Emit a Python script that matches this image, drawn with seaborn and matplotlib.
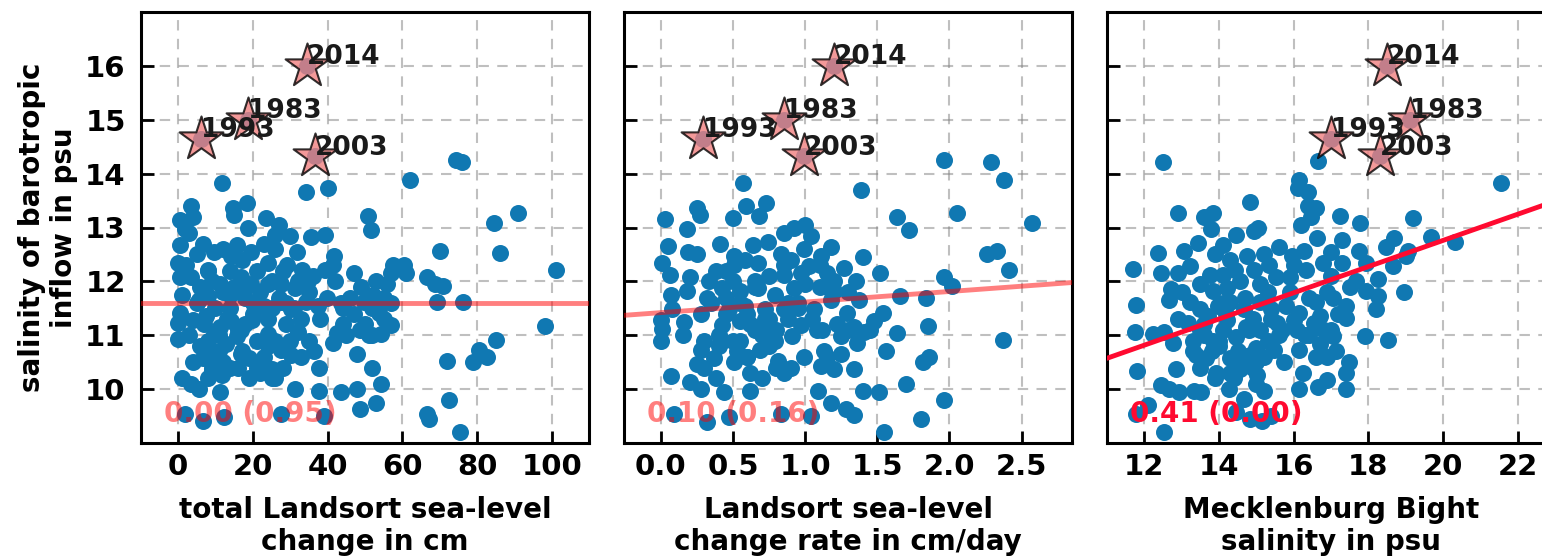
import numpy as np
import pandas as pd
import matplotlib
matplotlib.use("Agg")
import matplotlib.pyplot as plt
import seaborn as sns

# ---------------- data ----------------
years = ["1983", "1993", "2003", "2014"]
year_salinity = [15.0, 14.65, 14.32, 16.0]
year_x1 = [18.7, 6.1, 36.6, 34.5]
year_x2 = [0.85, 0.29, 0.99, 1.20]
year_x3 = [19.12, 17.0, 18.31, 18.5]

# panel 1: total Landsort sea-level change (cm) vs salinity
p1_x = [74.3, 75.9, 62.0, 90.8, 84.6, 86.1, 101, 70.0, 66.6, 68.7, 70.9, 69.2, 76.2, 98.2, 85.1,
        80.5, 82.5, 79.0, 71.8, 72.5, 66.6, 67.2, 75.4, 50.7, 51.5, 60.5, 57.4, 61.0, 57.0, 55.9,
        47.1, 41.8, 41.4, 39.4, 39.2, 35.5, 34.3, 40.2, 57.0, 54.4, 51.2, 48.7, 47.8, 51.8, 54.3,
        47.8, 43.5, 48.7, 52.9, 37.8, 39.0, 37.8, 36.3, 41.5, 42.5,
        11.7, 3.5, 4.0, 0.4, 1.9, 14.6, 15.0, 18.4, 18.7, 23.4, 26.9, 30.0, 25.9, 0.4, 6.6, 5.0,
        9.7, 14.3, 15.8, 19.4, 24.0, 29.2, 31.7, 33.2, 34.8, -0.1, 0.4, 3.5, 8.1, 11.2, 16.8,
        19.4, 24.0, 27.6, 31.2, 1.0, 5.5, 8.1, 13.8, 17.9, 23.0, 27.2, 30.2, 34.3, 37.3, 39.8,
        43.5, 49.7, 52.2, 53.8, 0.4, 4.0, 7.6, 11.2, 14.3, 16.8, 19.9, 24.0, 32.2, -0.1, -0.1,
        9.7, 12.7, 15.8, 7.6, 6.6, 9.1, 16.8, 18.9, 22.0, 24.0, 27.6, 30.2, 25.0, 22.0, 25.0,
        1.0, 3.5, 5.5, 9.1, 11.7, 11.2, 31.2, 1.9, 6.6, 12.2, 27.6,
        3, 8, 12, 14, 17, 21, 23, 26, 28, 32, 36, 6, 10, 14, 20, 24, 27, 33, 38, 44, 47, 50,
        52, 3, 8, 13, 18, 21, 26, 29, 35, 9, 14, 19, 23, 28, 6, 11, 16, 44, 55, 57, 49, 53,
        2, 5, 9, 12, 15, 18, 22, 25, 29, 31, 35, 7, 11, 16, 20, 25, 30, 4, 8, 12, 17, 21, 26,
        33, 45, 42, 46, 52, 55,
        18.7, 6.1, 36.6, 34.5]
p1_y = [14.25, 14.22, 13.88, 13.27, 13.08, 12.52, 12.21, 12.57, 12.08, 11.95, 11.92, 11.62, 11.61,
        11.17, 10.91, 10.73, 10.60, 10.50, 10.53, 9.79, 9.54, 9.45, 9.21, 13.21, 12.95, 12.31,
        12.31, 12.15, 12.15, 11.95, 12.15, 12.48, 12.31, 12.21, 12.86, 12.82, 13.66, 13.73, 11.19,
        11.03, 11.00, 11.09, 10.66, 10.40, 10.10, 10.00, 9.94, 9.64, 9.74, 9.97, 9.51, 10.40,
        10.71, 10.86, 11.05,
        13.83, 13.40, 13.20, 13.13, 12.97, 13.36, 13.23, 13.46, 13.00, 13.17, 13.04, 12.84, 12.87,
        12.67, 12.70, 12.50, 12.54, 12.48, 12.67, 12.54, 12.35, 12.31, 12.54, 12.21, 12.01, 12.34,
        12.08, 12.08, 12.21, 11.95, 12.08, 11.95, 11.95, 11.95, 11.88, 11.75, 11.65, 11.72, 11.75,
        11.69, 11.55, 11.62, 11.49, 11.62, 11.55, 11.69, 11.59, 11.62, 11.75, 11.42, 11.42, 11.29,
        11.36, 11.16, 11.26, 11.09, 11.29, 11.03, 11.06, 11.22, 10.93, 11.03, 10.83, 10.99, 10.70,
        10.57, 10.57, 10.66, 10.57, 10.50, 10.80, 10.73, 10.63, 10.37, 10.30, 10.20, 10.20, 10.10,
        10.00, 10.33, 10.27, 9.94, 10.00, 9.54, 9.41, 9.48, 9.54,
        12.9, 12.2, 12.6, 12.2, 12.4, 12.2, 12.7, 12.6, 12.2, 12.0, 12.1, 11.9, 11.5, 11.5, 11.6,
        11.3, 11.7, 11.3, 11.3, 11.2, 11.4, 11.2, 11.5, 11.0, 10.9, 11.3, 11.2, 10.9, 10.9, 11.2,
        10.9, 10.4, 10.4, 10.2, 10.6, 10.4, 10.8, 10.7, 10.4, 11.5, 11.3, 11.6, 11.9, 12.0,
        12.3, 11.6, 12.0, 11.8, 11.9, 11.9, 11.8, 12.0, 11.6, 11.5, 11.8, 11.2, 11.0, 11.1, 11.4,
        11.5, 10.9, 10.5, 10.2, 10.5, 10.7, 10.4, 10.2, 10.6, 11.0, 12.0, 11.7, 11.0, 11.7,
        15.0, 14.65, 14.32, 16.0]

# panel 2: Landsort sea-level change rate (cm/day) vs salinity
p2_x = [1.96, 2.29, 2.38, 1.385, 2.05, 1.64, 1.72, 2.57, 2.26, 2.33, 2.41, 1.96, 2.02, 1.84, 1.66,
        1.52, 1.40, 1.54, 1.85, 1.64, 2.37, 1.56, 1.86, 1.82, 1.70, 1.96, 1.80, 1.55, 1.51, 1.40,
        1.34, 1.28, 1.18, 1.09, 1.04, 0.83, 0.47, 0.32, 0.09, 0.62, 0.44, 0.28, 0.07, 0.20, 1.34,
        1.20, 1.11, 1.13, 1.25, 0.99, 0.90, 0.81, 0.70, 0.62, 0.51, 0.37, 0.25, 0.28, 0.42, 0.53,
        0.69, 0.79, 0.91, 0.97, 1.25, 1.36, 1.41, 1.48, 1.34, 0.00, 0.01, 0.00, 0.16, 0.08, 0.28,
        0.42, 0.55, 0.65, 0.76, 0.85, 0.72, 0.58, 0.47, 1.06, 1.18, 1.29, 1.37, 0.07, 0.18, 0.32,
        0.42, 0.55, 0.67, 0.79, 0.92, 1.00, 1.20, 0.33, 0.50, 0.85, 0.97, 1.15, 1.27, 1.35, 0.06,
        0.20, 0.01, 0.05, 0.19, 0.41, 0.51, 0.64, 0.74, 0.83, 0.67, 0.51, 0.85, 0.92, 1.00, 1.04,
        0.99, 1.03, 1.18, 1.11, 0.03, 0.18, 0.25, 0.27, 0.50, 0.59, 0.68, 0.73, 0.57,
        0.35, 0.45, 0.60, 0.75, 0.88, 1.10, 0.40, 0.55, 0.70, 0.95, 1.15, 0.30, 0.60, 0.80, 1.08,
        0.85, 0.38, 0.65,
        0.45, 0.55, 0.62, 0.72, 0.80, 0.88, 0.95, 1.05, 1.12, 1.22, 0.40, 0.50, 0.60, 0.75, 0.65,
        0.75, 0.45, 0.58, 0.90, 1.10, 1.20, 1.30, 0.30, 0.38, 0.85, 1.15, 0.25, 0.15, 1.30, 1.45,
        0.85, 0.29, 0.99, 1.20]
p2_y = [14.25, 14.22, 13.88, 13.69, 13.27, 13.20, 12.95, 13.08, 12.51, 12.57, 12.21, 12.08, 11.92,
        11.69, 11.72, 12.15, 12.46, 11.42, 11.17, 11.04, 10.91, 10.70, 10.60, 10.50, 10.09, 9.79,
        9.45, 9.21, 9.95, 9.97, 9.52, 9.64, 9.74, 9.97, 9.51, 9.54, 9.48, 9.39, 9.54, 9.97, 9.94,
        10.00, 10.24, 10.14, 10.37, 10.37, 10.43, 10.70, 10.66, 10.60, 10.40, 10.53, 10.20, 10.30,
        10.50, 10.57, 10.47, 10.73, 10.89, 10.70, 10.73, 10.89, 10.99, 11.19, 10.99, 10.86, 11.06,
        11.26, 11.16, 10.89, 11.12, 11.29, 11.24, 11.49, 11.39, 11.19, 11.26, 11.09, 11.12, 11.49,
        11.49, 11.55, 11.49, 11.49, 11.65, 11.42, 11.65, 11.75, 11.82, 11.69, 11.88, 11.82, 11.88,
        11.75, 11.88, 11.95, 11.82, 12.01, 12.01, 12.11, 12.15, 12.15, 12.25, 12.01, 12.11, 12.08,
        12.34, 12.65, 12.54, 12.70, 12.48, 12.67, 12.74, 12.51, 12.34, 12.31, 12.90, 13.00, 13.04,
        12.84, 12.61, 12.28, 12.64, 12.48, 13.15, 12.97, 13.36, 13.23, 13.17, 13.40, 13.21, 13.46,
        13.83,
        11.6, 11.7, 11.4, 11.3, 11.6, 11.9, 11.0, 10.9, 11.0, 11.6, 11.9, 10.9, 10.6, 10.4, 11.1,
        12.3, 12.2, 11.9,
        11.4, 11.6, 11.2, 11.3, 11.1, 11.3, 11.5, 11.3, 11.1, 11.2, 10.8, 10.9, 10.6, 10.8, 12.0,
        12.1, 12.2, 12.4, 12.4, 12.3, 12.0, 11.8, 10.4, 10.2, 10.3, 10.6, 12.5, 11.0, 11.1, 11.1,
        15.0, 14.65, 14.32, 16.0]

# panel 3: Mecklenburg Bight salinity (psu) vs salinity
p3_x = [12.51, 16.64, 21.55, 16.15, 16.11, 16.38, 16.38, 16.60, 16.20, 16.46, 14.84, 12.89, 13.61,
        13.83, 13.79, 14.95, 15.04, 17.24, 17.78, 19.20, 19.68, 20.33, 12.36, 11.69, 12.45, 13.07,
        13.43, 14.10, 14.46, 13.21, 12.89, 12.71, 12.67, 11.78, 11.74, 11.80, 12.22, 12.54, 12.76,
        12.85, 12.45, 12.67, 12.94, 13.34, 13.52, 11.78, 12.09, 12.54, 14.28, 14.68, 14.46, 14.84,
        15.15, 15.38, 15.20, 15.02, 14.84, 14.57, 14.30, 13.92, 13.65, 13.39, 13.30, 13.48, 13.83,
        14.10, 14.46, 14.73, 15.09, 15.00, 15.48, 15.75, 16.15, 16.24, 16.15, 16.64, 16.90, 17.40,
        17.40, 17.48, 17.13, 16.70, 17.05, 17.90, 18.54, 18.96, 18.20, 18.25, 18.25, 18.65, 18.70,
        18.48, 19.05, 19.00, 17.93, 17.75, 17.30, 16.99, 16.63, 16.27, 15.96, 15.60, 15.34, 14.93,
        14.75, 14.44, 14.12, 13.76, 13.50, 13.85, 14.21, 14.57, 15.10, 15.54, 15.90, 16.33, 16.78,
        17.30, 17.66, 17.93, 13.21, 13.50, 13.96, 14.30, 14.66, 15.10, 15.40, 15.80, 16.15, 16.60,
        17.05, 17.40, 17.40, 16.70, 16.00, 15.55, 14.21, 13.70, 13.16, 16.54,
        14.0, 14.5, 15.0, 15.6, 13.6, 14.2, 14.9, 16.3, 17.0, 13.9, 15.3, 16.9,
        13.5, 13.8, 14.0, 14.3, 14.6, 14.9, 15.2, 15.4, 14.8, 15.7, 16.1, 16.4, 16.8, 17.2, 16.9,
        16.4, 15.9, 15.3, 14.7, 14.1, 13.6, 13.3, 14.4, 15.0, 16.6, 17.5, 17.0, 16.0, 15.2, 14.3,
        13.9, 12.9, 13.0,
        19.12, 17.0, 18.31, 18.5]
p3_y = [14.22, 14.24, 13.83, 13.89, 13.73, 13.66, 13.40, 13.36, 13.04, 13.20, 13.48, 13.27, 13.20,
        13.27, 12.97, 12.94, 13.00, 13.22, 13.08, 13.17, 12.82, 12.74, 12.53, 12.23, 12.15, 12.57,
        12.71, 12.67, 12.87, 12.28, 12.15, 11.85, 11.65, 11.57, 11.06, 10.33, 11.03, 11.06, 10.86,
        10.37, 10.07, 10.00, 9.94, 9.97, 9.94, 9.54, 9.71, 9.21, 10.00, 9.81, 9.58, 9.45, 9.41,
        9.51, 9.97, 10.27, 10.63, 10.37, 10.57, 10.30, 10.57, 10.63, 10.89, 11.09, 10.89, 11.09,
        10.96, 11.16, 11.09, 10.76, 10.73, 10.50, 10.73, 10.30, 10.00, 10.04, 10.17, 10.00, 10.30,
        10.50, 10.70, 10.83, 10.99, 10.99, 10.91, 11.80, 11.49, 11.72, 12.05, 12.28, 12.81, 12.64,
        12.57, 12.48, 12.34, 12.57, 12.77, 12.54, 12.81, 12.57, 12.48, 12.64, 12.31, 12.21, 12.48,
        12.21, 12.11, 12.11, 11.95, 11.82, 11.88, 12.01, 11.95, 12.08, 12.08, 12.21, 12.34, 12.34,
        12.01, 11.82, 11.62, 11.49, 11.55, 11.62, 11.49, 11.62, 11.49, 11.55, 11.42, 11.62, 11.69,
        11.55, 11.32, 11.36, 11.29, 11.22, 11.29, 11.36, 11.22, 11.22,
        10.8, 10.7, 10.5, 11.0, 11.0, 11.4, 11.3, 11.0, 11.1, 10.2, 10.9, 10.6,
        10.4, 10.7, 10.9, 10.3, 10.6, 10.4, 10.6, 11.3, 11.1, 11.1, 11.1, 11.0, 11.1, 11.4, 11.8,
        11.7, 11.8, 11.8, 11.7, 11.6, 11.2, 10.7, 10.2, 10.1, 10.6, 11.9, 12.1, 12.3, 12.5, 12.4,
        12.5, 11.3, 11.8,
        15.0, 14.65, 14.32, 16.0]

# fitted regression lines (intercept, slope)
fit_intercept = [11.60, 11.42, 7.90]
fit_slope = [0.0, 0.196, 0.243]
corr_labels = ["0.00 (0.95)", "0.10 (0.16)", "0.41 (0.00)"]

x_labels = ["total Landsort sea-level\nchange in cm",
            "Landsort sea-level\nchange rate in cm/day",
            "Mecklenburg Bight\nsalinity in psu"]
y_label = "salinity of barotropic\ninflow in psu"

# ---------------- style ----------------
sns.set_style("white")
plt.rcParams["font.family"] = ["DejaVu Sans"]
plt.rcParams["font.weight"] = "bold"
for key in ["text.color", "axes.labelcolor", "xtick.color", "ytick.color"]:
    plt.rcParams[key] = "black"

TICK_FS = 21
LAB_FS = 20
ANN_FS = 19
COR_FS = 20
dot_color = "#1078b2"
line_colors = [(1, 0, 0, 0.5), (1, 0, 0, 0.5), "#ff0a30"]

fig = plt.figure(figsize=(15.42, 5.56), dpi=100)
W = 448 / 1542
H = 431 / 556
bottom = 1 - 443 / 556
lefts = [141 / 1542, 624 / 1542, 1107 / 1542]
xlims = [(-9.9, 109.9), (-0.256, 2.85), (11.0, 23.0)]
xticks = [np.arange(0, 101, 20), np.arange(0, 2.51, 0.5), np.arange(12, 23, 2)]
xtick_fmt = ["{:.0f}", "{:.1f}", "{:.0f}"]

panels = [(p1_x, p1_y, year_x1), (p2_x, p2_y, year_x2), (p3_x, p3_y, year_x3)]

for i, (px, py, yx) in enumerate(panels):
    ax = fig.add_axes([lefts[i], bottom, W, H])
    df = pd.DataFrame({"x": px, "y": py})
    sns.scatterplot(data=df, x="x", y="y", ax=ax, color=dot_color, s=150,
                    linewidth=0, zorder=3)
    dfy = pd.DataFrame({"x": yx, "y": year_salinity, "year": years})
    sns.scatterplot(data=dfy, x="x", y="y", ax=ax, marker="*", s=1100,
                    color="lightcoral", edgecolor="black", linewidth=1.5,
                    alpha=0.8, zorder=4)
    for _, r in dfy.iterrows():
        ax.text(r["x"], r["y"] + 0.03, r["year"], fontsize=ANN_FS, fontweight="bold",
                color="#1a1a1a", zorder=6, ha="left", va="baseline")
    ax.axline((0, fit_intercept[i]), slope=fit_slope[i], color=line_colors[i],
              lw=3.5, zorder=5)
    ax.text(0.052, 0.048, corr_labels[i], transform=ax.transAxes, fontsize=COR_FS,
            fontweight="bold", color=line_colors[i], zorder=6, va="baseline")

    ax.set_xlim(*xlims[i])
    ax.set_ylim(9.0, 17.0)
    ax.set_xticks(xticks[i])
    ax.set_xticklabels([xtick_fmt[i].format(v) for v in xticks[i]], fontsize=TICK_FS,
                       fontweight="bold")
    ax.set_yticks(np.arange(10, 17, 1))
    if i == 0:
        ax.set_yticklabels([str(v) for v in range(10, 17)], fontsize=TICK_FS,
                           fontweight="bold")
        ax.set_ylabel(y_label, fontsize=LAB_FS, fontweight="bold", labelpad=5)
    else:
        ax.set_yticklabels([])
        ax.set_ylabel("")
    ax.set_xlabel(x_labels[i], fontsize=LAB_FS, fontweight="bold", labelpad=11)
    ax.tick_params(axis="both", which="major", direction="in", length=9, width=2,
                   bottom=True, left=True, top=False, right=False, colors="black")
    ax.tick_params(axis="x", pad=7)
    ax.tick_params(axis="y", pad=11)
    ax.grid(True, linestyle=(0, (5, 4)), color="gray", alpha=0.5, lw=1.5)
    ax.set_axisbelow(True)
    for sp in ax.spines.values():
        sp.set_linewidth(2.2)
        sp.set_color("black")

fig.savefig("out.png", dpi=100)
